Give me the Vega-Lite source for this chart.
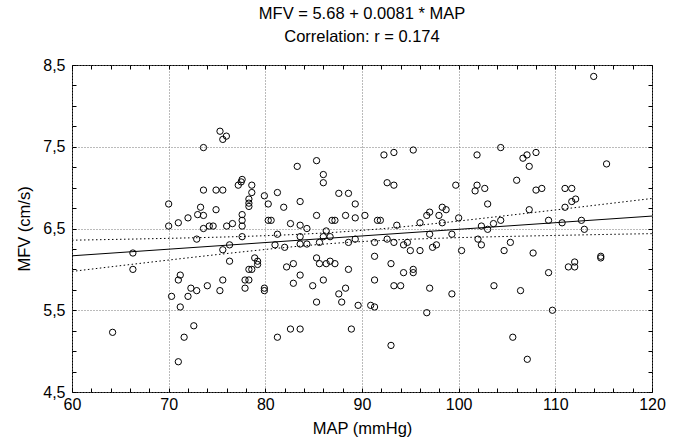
{
  "$schema": "https://vega.github.io/schema/vega-lite/v6.json",
  "width": 580,
  "height": 327,
  "autosize": {"type": "none"},
  "padding": {"left": 72, "top": 65, "right": 28, "bottom": 49},
  "background": "white",
  "config": {
    "font": "Liberation Sans, Arial, sans-serif",
    "view": {"stroke": "black", "strokeWidth": 1},
    "axis": {"labelColor": "black", "titleColor": "black", "labelFont": "Liberation Sans, Arial, sans-serif", "titleFont": "Liberation Sans, Arial, sans-serif", "titleFontWeight": "normal"}
  },
  "title": {
    "text": ["MFV = 5.68 + 0.0081 * MAP", "Correlation: r = 0.174"],
    "font": "Liberation Sans, Arial, sans-serif",
    "fontSize": 16.5,
    "fontWeight": "normal",
    "lineHeight": 23,
    "offset": 12,
    "anchor": "middle",
    "color": "black"
  },
  "datasets": {
    "pts": [
      {"map": 75.31, "mfv": 7.69}, {"map": 75.97, "mfv": 7.63}, {"map": 75.6, "mfv": 7.59}, {"map": 73.6, "mfv": 7.49},
      {"map": 77.6, "mfv": 7.10}, {"map": 77.5, "mfv": 7.07}, {"map": 77.2, "mfv": 7.03}, {"map": 78.6, "mfv": 7.03},
      {"map": 73.6, "mfv": 6.97}, {"map": 74.9, "mfv": 6.97}, {"map": 75.6, "mfv": 6.97}, {"map": 78.6, "mfv": 6.94},
      {"map": 78.3, "mfv": 6.86}, {"map": 79.9, "mfv": 6.90}, {"map": 81.25, "mfv": 6.94}, {"map": 78.3, "mfv": 6.81},
      {"map": 78.3, "mfv": 6.77}, {"map": 70.0, "mfv": 6.80}, {"map": 80.3, "mfv": 6.80}, {"map": 81.9, "mfv": 6.76},
      {"map": 73.3, "mfv": 6.76}, {"map": 74.9, "mfv": 6.73}, {"map": 72.0, "mfv": 6.63}, {"map": 73.0, "mfv": 6.67},
      {"map": 73.6, "mfv": 6.66}, {"map": 77.6, "mfv": 6.67}, {"map": 77.6, "mfv": 6.60}, {"map": 71.0, "mfv": 6.57},
      {"map": 80.3, "mfv": 6.60}, {"map": 80.6, "mfv": 6.60}, {"map": 82.6, "mfv": 6.56},
      {"map": 70.0, "mfv": 6.53}, {"map": 73.6, "mfv": 6.50}, {"map": 74.2, "mfv": 6.53}, {"map": 74.6, "mfv": 6.53},
      {"map": 76.0, "mfv": 6.53}, {"map": 76.6, "mfv": 6.56}, {"map": 77.6, "mfv": 6.53}, {"map": 77.6, "mfv": 6.40},
      {"map": 81.25, "mfv": 6.43}, {"map": 72.9, "mfv": 6.37}, {"map": 66.3, "mfv": 6.20}, {"map": 75.6, "mfv": 6.24},
      {"map": 76.3, "mfv": 6.30}, {"map": 81.0, "mfv": 6.30}, {"map": 82.0, "mfv": 6.27}, {"map": 66.3, "mfv": 6.00},
      {"map": 76.3, "mfv": 6.10}, {"map": 78.9, "mfv": 6.14}, {"map": 79.2, "mfv": 6.10}, {"map": 79.2, "mfv": 6.06},
      {"map": 78.3, "mfv": 6.00}, {"map": 78.6, "mfv": 6.00}, {"map": 82.2, "mfv": 6.03}, {"map": 71.2, "mfv": 5.93},
      {"map": 71.0, "mfv": 5.87}, {"map": 75.6, "mfv": 5.87}, {"map": 77.9, "mfv": 5.87}, {"map": 78.3, "mfv": 5.87},
      {"map": 72.3, "mfv": 5.77}, {"map": 72.9, "mfv": 5.74}, {"map": 74.0, "mfv": 5.80}, {"map": 75.3, "mfv": 5.74},
      {"map": 77.9, "mfv": 5.77}, {"map": 79.9, "mfv": 5.77}, {"map": 79.9, "mfv": 5.74}, {"map": 70.3, "mfv": 5.67},
      {"map": 72.0, "mfv": 5.67}, {"map": 71.2, "mfv": 5.54}, {"map": 64.2, "mfv": 5.23}, {"map": 72.6, "mfv": 5.31},
      {"map": 71.6, "mfv": 5.17}, {"map": 81.25, "mfv": 5.17}, {"map": 82.6, "mfv": 5.27}, {"map": 71.0, "mfv": 4.87},
      {"map": 92.27, "mfv": 7.40}, {"map": 93.3, "mfv": 7.43}, {"map": 95.3, "mfv": 7.46}, {"map": 101.9, "mfv": 7.40},
      {"map": 83.3, "mfv": 7.26}, {"map": 85.3, "mfv": 7.33}, {"map": 86.0, "mfv": 7.16}, {"map": 86.0, "mfv": 7.06},
      {"map": 92.6, "mfv": 7.06}, {"map": 93.3, "mfv": 7.03}, {"map": 99.7, "mfv": 7.03}, {"map": 101.9, "mfv": 7.03},
      {"map": 101.7, "mfv": 6.96}, {"map": 87.6, "mfv": 6.93}, {"map": 88.6, "mfv": 6.93}, {"map": 83.6, "mfv": 6.83},
      {"map": 89.3, "mfv": 6.80}, {"map": 85.3, "mfv": 6.66}, {"map": 86.9, "mfv": 6.60}, {"map": 87.2, "mfv": 6.60},
      {"map": 88.3, "mfv": 6.66}, {"map": 89.3, "mfv": 6.63}, {"map": 90.3, "mfv": 6.66}, {"map": 91.6, "mfv": 6.60},
      {"map": 91.9, "mfv": 6.60}, {"map": 96.7, "mfv": 6.66}, {"map": 97.0, "mfv": 6.70}, {"map": 97.96, "mfv": 6.66},
      {"map": 98.3, "mfv": 6.76}, {"map": 98.7, "mfv": 6.73}, {"map": 100.0, "mfv": 6.63}, {"map": 83.6, "mfv": 6.54},
      {"map": 93.6, "mfv": 6.54}, {"map": 96.0, "mfv": 6.57}, {"map": 98.3, "mfv": 6.57},
      {"map": 84.3, "mfv": 6.50}, {"map": 86.3, "mfv": 6.47}, {"map": 86.0, "mfv": 6.40}, {"map": 86.7, "mfv": 6.40},
      {"map": 83.6, "mfv": 6.40}, {"map": 83.6, "mfv": 6.31}, {"map": 84.3, "mfv": 6.31}, {"map": 85.6, "mfv": 6.33},
      {"map": 88.6, "mfv": 6.33}, {"map": 89.3, "mfv": 6.37}, {"map": 91.3, "mfv": 6.33}, {"map": 92.6, "mfv": 6.37},
      {"map": 93.3, "mfv": 6.33}, {"map": 94.3, "mfv": 6.30}, {"map": 94.7, "mfv": 6.33}, {"map": 95.0, "mfv": 6.23},
      {"map": 96.0, "mfv": 6.23}, {"map": 97.0, "mfv": 6.43}, {"map": 97.3, "mfv": 6.27}, {"map": 97.7, "mfv": 6.30},
      {"map": 99.3, "mfv": 6.43}, {"map": 100.3, "mfv": 6.23}, {"map": 102.0, "mfv": 6.37}, {"map": 91.3, "mfv": 6.16},
      {"map": 85.3, "mfv": 6.14}, {"map": 82.9, "mfv": 6.07}, {"map": 85.6, "mfv": 6.07}, {"map": 86.3, "mfv": 6.07},
      {"map": 87.2, "mfv": 6.07}, {"map": 86.7, "mfv": 6.10}, {"map": 88.6, "mfv": 6.00}, {"map": 93.0, "mfv": 6.07},
      {"map": 95.3, "mfv": 6.00}, {"map": 95.3, "mfv": 5.96}, {"map": 94.3, "mfv": 5.96}, {"map": 83.6, "mfv": 5.93},
      {"map": 82.9, "mfv": 5.83}, {"map": 84.9, "mfv": 5.80}, {"map": 86.0, "mfv": 5.87}, {"map": 88.3, "mfv": 5.77},
      {"map": 87.6, "mfv": 5.70}, {"map": 91.3, "mfv": 5.87}, {"map": 93.3, "mfv": 5.80}, {"map": 94.0, "mfv": 5.80},
      {"map": 97.0, "mfv": 5.77}, {"map": 99.3, "mfv": 5.70}, {"map": 85.3, "mfv": 5.60}, {"map": 87.9, "mfv": 5.60},
      {"map": 89.6, "mfv": 5.56}, {"map": 90.9, "mfv": 5.56}, {"map": 91.3, "mfv": 5.54}, {"map": 96.7, "mfv": 5.47},
      {"map": 83.6, "mfv": 5.27}, {"map": 88.9, "mfv": 5.27}, {"map": 93.0, "mfv": 5.07},
      {"map": 113.97, "mfv": 8.36}, {"map": 104.35, "mfv": 7.49}, {"map": 106.65, "mfv": 7.36}, {"map": 107.07, "mfv": 7.40},
      {"map": 108.0, "mfv": 7.43}, {"map": 107.3, "mfv": 7.26}, {"map": 115.3, "mfv": 7.29}, {"map": 106.0, "mfv": 7.09},
      {"map": 102.7, "mfv": 6.99}, {"map": 108.0, "mfv": 6.97}, {"map": 108.6, "mfv": 6.99}, {"map": 111.0, "mfv": 6.99},
      {"map": 111.7, "mfv": 6.99}, {"map": 103.0, "mfv": 6.80}, {"map": 107.3, "mfv": 6.73}, {"map": 112.1, "mfv": 6.86},
      {"map": 111.7, "mfv": 6.83}, {"map": 111.0, "mfv": 6.76}, {"map": 109.3, "mfv": 6.60}, {"map": 110.7, "mfv": 6.57},
      {"map": 112.7, "mfv": 6.60},
      {"map": 102.35, "mfv": 6.53}, {"map": 103.0, "mfv": 6.49}, {"map": 103.6, "mfv": 6.56}, {"map": 104.35, "mfv": 6.60},
      {"map": 113.0, "mfv": 6.49}, {"map": 102.35, "mfv": 6.30}, {"map": 104.7, "mfv": 6.23}, {"map": 105.35, "mfv": 6.33},
      {"map": 107.7, "mfv": 6.20}, {"map": 109.3, "mfv": 5.96}, {"map": 111.35, "mfv": 6.03}, {"map": 112.0, "mfv": 6.09},
      {"map": 112.0, "mfv": 6.03}, {"map": 114.7, "mfv": 6.16}, {"map": 114.7, "mfv": 6.14}, {"map": 103.65, "mfv": 5.80},
      {"map": 106.4, "mfv": 5.74}, {"map": 109.7, "mfv": 5.50}, {"map": 105.6, "mfv": 5.17}, {"map": 107.1, "mfv": 4.90}
    ],
    "fit": [
      {"map": 60, "mfv": 6.166}, {"map": 120, "mfv": 6.652}
    ],
    "band": [
      {"map": 60, "lo": 5.975, "hi": 6.357},
      {"map": 66, "lo": 6.059, "hi": 6.370},
      {"map": 72, "lo": 6.141, "hi": 6.385},
      {"map": 78, "lo": 6.219, "hi": 6.404},
      {"map": 84, "lo": 6.289, "hi": 6.432},
      {"map": 88, "lo": 6.326, "hi": 6.460},
      {"map": 92, "lo": 6.353, "hi": 6.497},
      {"map": 98, "lo": 6.381, "hi": 6.566},
      {"map": 104, "lo": 6.400, "hi": 6.645},
      {"map": 110, "lo": 6.415, "hi": 6.727},
      {"map": 116, "lo": 6.429, "hi": 6.811},
      {"map": 120, "lo": 6.437, "hi": 6.867}
    ]
  },
  "resolve": {"scale": {"x": "shared", "y": "shared"}, "axis": {"x": "independent", "y": "independent"}},
  "layer": [
    {
      "data": {"name": "pts"},
      "mark": {"type": "point", "shape": "circle", "filled": false, "size": 40, "strokeWidth": 1, "color": "black", "opacity": 1},
      "encoding": {
        "x": {"field": "map", "type": "quantitative",
              "scale": {"domain": [60, 120], "nice": false, "zero": false},
              "axis": {"orient": "bottom", "values": [60, 70, 80, 90, 100, 110, 120], "title": "MAP (mmHg)", "titleFontSize": 16.5, "titlePadding": 8,
                       "labelFontSize": 16, "labelPadding": 4, "ticks": false, "domain": false, "labelFlush": false,
                       "grid": true, "gridColor": "#777", "gridDash": [1, 2], "gridWidth": 1, "gridOpacity": 1}},
        "y": {"field": "mfv", "type": "quantitative",
              "scale": {"domain": [4.5, 8.5], "nice": false, "zero": false},
              "axis": {"orient": "left", "values": [4.5, 5.5, 6.5, 7.5, 8.5], "title": "MFV (cm/s)", "titleFontSize": 16.5, "titlePadding": 10,
                       "labelFontSize": 16, "labelPadding": 7, "ticks": false, "domain": false, "labelFlush": false,
                       "labelExpr": "replace(format(datum.value, '.1f'), '.', ',')",
                       "grid": true, "gridColor": "#777", "gridDash": [1, 2], "gridWidth": 1, "gridOpacity": 1}}
      }
    },
    {
      "data": {"name": "fit"},
      "mark": {"type": "line", "color": "black", "strokeWidth": 1},
      "encoding": {
        "x": {"field": "map", "type": "quantitative",
              "axis": {"orient": "bottom", "values": [60,62,64,66,68,70,72,74,76,78,80,82,84,86,88,90,92,94,96,98,100,102,104,106,108,110,112,114,116,118,120],
                       "title": null, "labels": false, "grid": false, "domain": false, "ticks": true, "tickSize": -4, "tickColor": "black", "tickWidth": 1}},
        "y": {"field": "mfv", "type": "quantitative",
              "axis": {"orient": "left", "values": [4.5,4.75,5,5.25,5.5,5.75,6,6.25,6.5,6.75,7,7.25,7.5,7.75,8,8.25,8.5],
                       "title": null, "labels": false, "grid": false, "domain": false, "ticks": true, "tickSize": -4, "tickColor": "black", "tickWidth": 1}}
      }
    },
    {
      "data": {"name": "band"},
      "mark": {"type": "line", "color": "black", "strokeWidth": 1, "strokeDash": [1.5, 2.5], "interpolate": "monotone"},
      "encoding": {
        "x": {"field": "map", "type": "quantitative",
              "axis": {"orient": "top", "values": [60,62,64,66,68,70,72,74,76,78,80,82,84,86,88,90,92,94,96,98,100,102,104,106,108,110,112,114,116,118,120],
                       "title": null, "labels": false, "grid": false, "domain": false, "ticks": true, "tickSize": -4, "tickColor": "black", "tickWidth": 1}},
        "y": {"field": "hi", "type": "quantitative",
              "axis": {"orient": "right", "values": [4.5,4.75,5,5.25,5.5,5.75,6,6.25,6.5,6.75,7,7.25,7.5,7.75,8,8.25,8.5],
                       "title": null, "labels": false, "grid": false, "domain": false, "ticks": true, "tickSize": -4, "tickColor": "black", "tickWidth": 1}}
      }
    },
    {
      "data": {"name": "band"},
      "mark": {"type": "line", "color": "black", "strokeWidth": 1, "strokeDash": [1.5, 2.5], "interpolate": "monotone"},
      "encoding": {
        "x": {"field": "map", "type": "quantitative", "axis": null},
        "y": {"field": "lo", "type": "quantitative", "axis": null}
      }
    }
  ]
}
